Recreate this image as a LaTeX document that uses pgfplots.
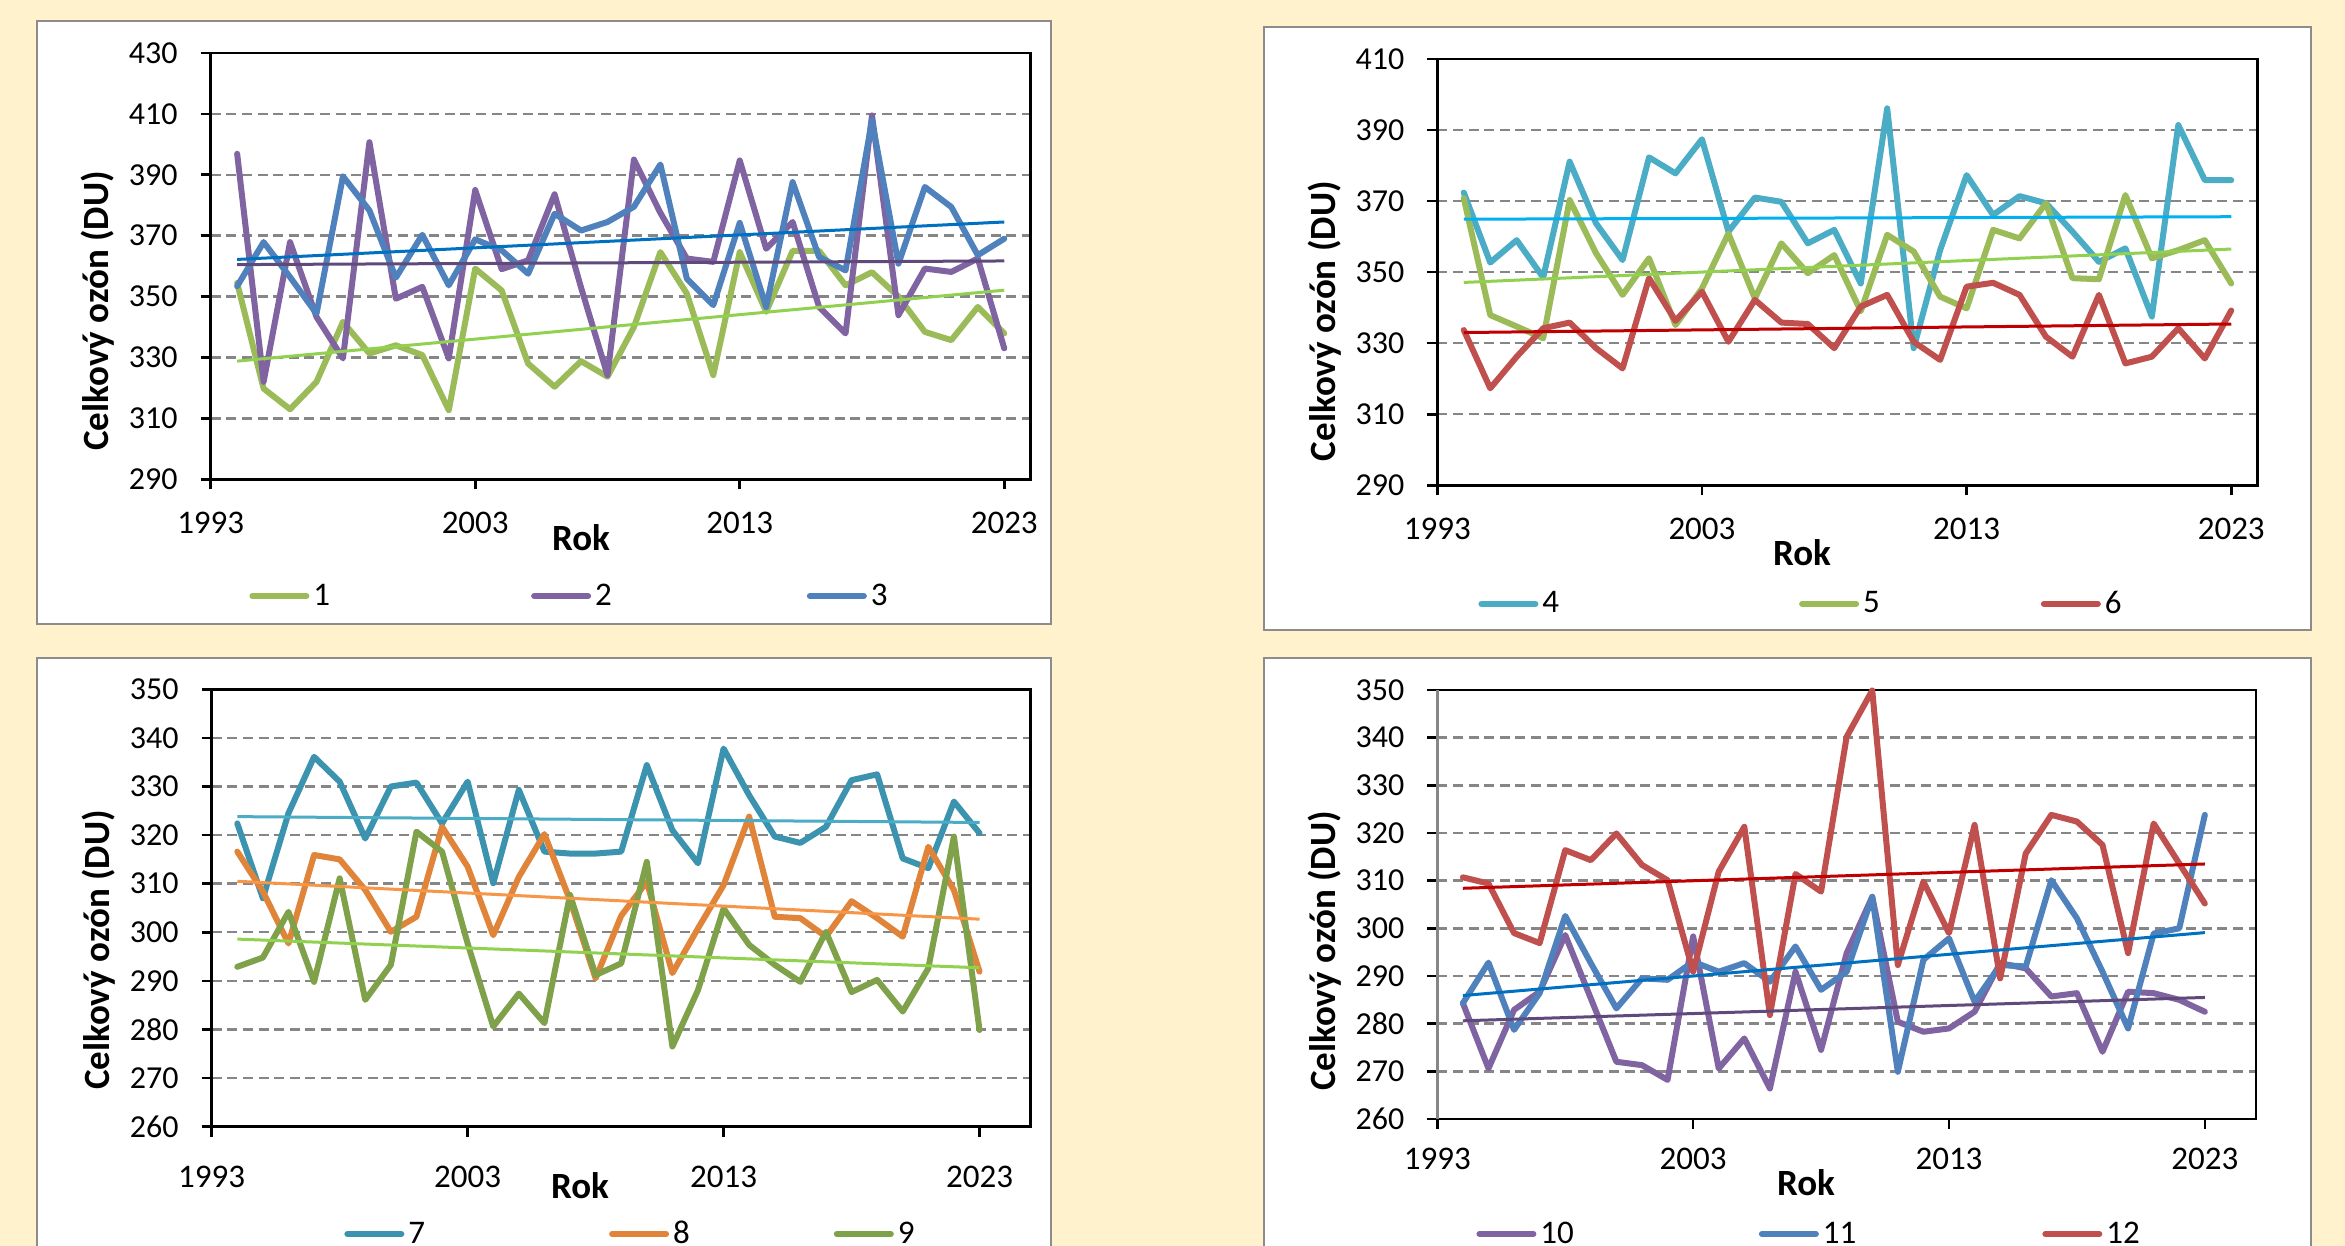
\documentclass[border=0pt]{standalone}
\usepackage{pgfplots}
\usepackage{pgfplotstable}
\pgfplotsset{compat=1.18}
\usepackage{fontspec}
\setmainfont{Carlito}

\definecolor{bgc}{HTML}{FFF2CC}
\definecolor{boxc}{HTML}{8C8C8C}
\definecolor{gridc}{HTML}{868686}
\definecolor{cA}{HTML}{9BBB59}
\definecolor{cB}{HTML}{8064A2}
\definecolor{cC}{HTML}{4F81BD}
\definecolor{cD}{HTML}{4BACC6}
\definecolor{cE}{HTML}{C0504D}
\definecolor{cF}{HTML}{3C93AF}
\definecolor{cG}{HTML}{E0843A}
\definecolor{cH}{HTML}{7EA14A}
\definecolor{tGreen}{HTML}{92D050}
\definecolor{tPurple}{HTML}{604A7B}
\definecolor{tBlue}{HTML}{0070C0}
\definecolor{tAqua}{HTML}{00B0F0}
\definecolor{tRed}{HTML}{C00000}
\definecolor{tTeal}{HTML}{4BACC6}
\definecolor{tOrange}{HTML}{F79646}

\pgfplotstableread{
year s1 s2 s3
1994 354.5 396.9 353.4
1995 319.8 322.0 367.9
1996 313.0 367.9 356.4
1997 322.0 343.3 344.4
1998 341.7 329.7 389.5
1999 331.3 400.7 378.3
2000 334.0 349.3 356.2
2001 330.8 353.2 370.3
2002 312.7 329.7 353.7
2003 359.2 385.0 368.8
2004 352.0 359.0 365.2
2005 328.0 361.9 357.5
2006 320.4 383.6 377.2
2007 328.8 353.0 371.7
2008 323.7 324.2 374.5
2009 340.0 395.0 379.5
2010 364.6 377.5 393.4
2011 351.0 362.5 355.9
2012 324.2 361.4 347.2
2013 364.6 394.7 374.2
2014 345.0 365.7 346.6
2015 365.0 374.5 387.6
2016 365.0 346.6 363.0
2017 353.7 337.9 358.6
2018 358.0 409.5 407.8
2019 350.0 343.9 360.8
2020 338.4 359.2 386.0
2021 335.7 358.1 379.4
2022 346.6 362.5 363.6
2023 337.9 333.0 369.0
}\tabA

\pgfplotstableread{
year s4 s5 s6
1994 372.4 370.8 333.7
1995 352.7 337.9 317.3
1996 359.0 334.7 326.2
1997 348.5 331.4 334.2
1998 381.1 370.3 335.8
1999 363.7 355.3 328.6
2000 353.4 343.6 322.9
2001 382.3 353.9 348.3
2002 377.8 335.1 336.3
2003 387.4 345.4 344.5
2004 361.4 360.9 330.4
2005 371.0 342.6 342.2
2006 369.8 358.1 335.8
2007 358.1 349.7 335.4
2008 361.9 354.8 328.6
2009 346.8 339.0 340.3
2010 396.1 360.5 343.6
2011 328.6 355.8 330.4
2012 356.2 343.1 325.3
2013 377.3 339.8 345.9
2014 366.1 361.9 347.0
2015 371.4 359.5 343.6
2016 369.4 369.4 331.8
2017 361.4 348.3 326.2
2018 352.9 348.0 343.6
2019 356.7 371.7 324.3
2020 337.5 353.9 326.2
2021 391.4 356.2 334.2
2022 375.9 359.0 325.7
2023 375.9 346.8 339.2
}\tabB

\pgfplotstableread{
year s7 s8 s9
1994 322.4 316.6 292.9
1995 307.0 308.4 294.8
1996 324.5 297.7 304.2
1997 336.1 315.9 289.8
1998 331.0 315.0 311.1
1999 319.3 308.7 286.1
2000 330.0 300.1 293.3
2001 330.8 303.2 320.7
2002 322.4 321.7 316.6
2003 331.0 313.5 297.7
2004 310.1 299.4 280.6
2005 329.3 311.4 287.4
2006 316.6 320.2 281.3
2007 316.2 306.6 307.7
2008 316.2 290.5 291.2
2009 316.6 303.4 293.6
2010 334.4 310.4 314.5
2011 321.0 291.6 276.5
2012 314.2 300.8 288.1
2013 337.8 309.7 304.9
2014 328.2 323.8 297.4
2015 319.7 303.2 293.3
2016 318.4 302.9 289.8
2017 321.7 299.1 300.1
2018 331.3 306.4 287.7
2019 332.5 302.9 290.2
2020 315.2 299.1 283.7
2021 313.2 317.6 292.6
2022 326.9 308.7 319.7
2023 320.4 291.9 279.9
}\tabC

\pgfplotstableread{
year s10 s11 s12
1994 284.3 284.3 310.7
1995 270.6 292.8 309.4
1996 282.9 278.7 299.0
1997 286.7 286.4 296.9
1998 298.6 302.6 316.4
1999 285.3 292.7 314.3
2000 272.0 283.2 319.9
2001 271.3 289.5 313.3
2002 268.2 289.2 310.1
2003 298.3 293.0 290.9
2004 270.6 290.9 311.9
2005 276.9 292.7 321.3
2006 266.4 288.8 281.8
2007 290.9 296.2 311.4
2008 274.5 287.1 307.7
2009 294.8 290.9 340.2
2010 306.6 306.6 349.9
2011 280.4 269.9 292.3
2012 278.3 293.4 309.8
2013 279.0 297.9 299.0
2014 282.5 284.6 321.7
2015 292.7 292.3 289.5
2016 291.6 292.0 315.7
2017 285.7 310.1 323.8
2018 286.4 302.1 322.4
2019 274.1 290.9 317.5
2020 286.7 279.0 294.8
2021 286.4 298.9 322.0
2022 285.0 300.0 313.6
2023 282.5 323.8 305.2
}\tabD

\pgfplotsset{
  ser/.style={line width=3pt, line join=round, line cap=round},
  trd/.style={line width=1.5pt, forget plot},
  panel/.style={
    scale only axis,
    anchor=south west,
    clip=false,
    axis line style={black, line width=1.3pt},
    every tick/.style={black, line width=1.3pt},
    major tick length=5pt,
    tick align=outside,
    xtick pos=bottom,
    ytick pos=left,
    xmin=1993,
    xtick={1993,2003,2013,2023},
    ymajorgrids,
    major grid style={gridc, line width=1.2pt, dash pattern=on 5pt off 2.8pt},
    tick label style={font=\fontsize{16}{19}\selectfont},
    x tick label style={font=\fontsize{16.5}{19}\selectfont},
    yticklabel style={xshift=-8pt},
    /pgf/number format/assume math mode=true,
    /pgf/number format/1000 sep={},
    label style={font=\bfseries\fontsize{18.5}{21}\selectfont},
    xlabel={Rok},
    ylabel={Celkový ozón (DU)},
    legend columns=3,
    legend cell align=left,
    legend style={draw=none, fill=none, inner sep=0pt, anchor=west,
       font=\fontsize{16.5}{19}\selectfont,
       nodes={inner sep=2pt}},
    legend image code/.code={\draw[##1, line width=3pt, line cap=round] (0pt,0pt) -- (27pt,0pt);},
  }
}

\begin{document}
\begin{tikzpicture}[x=1pt,y=1pt]
\useasboundingbox (0,0) rectangle (1172.5,623);
\fill[bgc] (0,0) rectangle (1172.5,623);
\draw[boxc, line width=1.2pt, fill=white] (18.5,311) rectangle (525.5,612.5);
\draw[boxc, line width=1.2pt, fill=white] (632,308) rectangle (1155.5,609.5);
\draw[boxc, line width=1.2pt, fill=white] (18.5,-10) rectangle (525.5,294);
\draw[boxc, line width=1.2pt, fill=white] (632,-10) rectangle (1155.5,294);

% Panel 1
\begin{axis}[panel, at={(105.35pt,383.35pt)}, width=410pt, height=213.15pt,
  xmax=2024, ymin=290, ymax=430, ytick={290,310,...,430},
  xticklabel style={yshift=-8pt},
  ylabel style={at={(axis description cs:-0.1374,0.395)}, anchor=center},
  xlabel style={at={(axis description cs:0.4516,-0.1377)}, anchor=center},
  legend style={at={(0.0467,-0.274)},
    /tikz/column 2/.style={column sep=98.5pt},
    /tikz/column 4/.style={column sep=95.5pt}}]
\addplot[ser, cA] table[x=year, y=s1] {\tabA};
\addlegendentry{1}
\addplot[ser, cB] table[x=year, y=s2] {\tabA};
\addlegendentry{2}
\addplot[ser, cC] table[x=year, y=s3] {\tabA};
\addlegendentry{3}
\addplot[trd, tGreen] coordinates {(1994,328.8) (2023,352.1)};
\addplot[trd, tPurple] coordinates {(1994,360.5) (2023,361.7)};
\addplot[trd, tBlue] coordinates {(1994,362.2) (2023,374.5)};
\end{axis}

% Panel 2
\begin{axis}[panel, at={(718.65pt,380.35pt)}, width=410.2pt, height=213.15pt,
  xmax=2024, ymin=290, ymax=410, ytick={290,310,...,410},
  xticklabel style={yshift=-8pt},
  ylabel style={at={(axis description cs:-0.1369,0.385)}, anchor=center},
  xlabel style={at={(axis description cs:0.4445,-0.159)}, anchor=center},
  legend style={at={(0.0496,-0.278)},
    /tikz/column 2/.style={column sep=118pt},
    /tikz/column 4/.style={column sep=78.5pt}}]
\addplot[ser, cD] table[x=year, y=s4] {\tabB};
\addlegendentry{4}
\addplot[ser, cA] table[x=year, y=s5] {\tabB};
\addlegendentry{5}
\addplot[ser, cE] table[x=year, y=s6] {\tabB};
\addlegendentry{6}
\addplot[trd, tAqua] coordinates {(1994,364.9) (2023,365.6)};
\addplot[trd, tGreen] coordinates {(1994,347.1) (2023,356.5)};
\addplot[trd, tRed] coordinates {(1994,333.0) (2023,335.4)};
\end{axis}

% Panel 3
\begin{axis}[panel, at={(105.85pt,59.65pt)}, width=409.5pt, height=218.7pt,
  xmax=2025, ymin=260, ymax=350, ytick={260,270,...,350},
  xticklabel style={yshift=-11pt},
  ylabel style={at={(axis description cs:-0.138,0.404)}, anchor=center},
  xlabel style={at={(axis description cs:0.4497,-0.1356)}, anchor=center},
  legend style={at={(0.1615,-0.2453)},
    /tikz/column 2/.style={column sep=90pt},
    /tikz/column 4/.style={column sep=70pt}}]
\addplot[ser, cF] table[x=year, y=s7] {\tabC};
\addlegendentry{7}
\addplot[ser, cG] table[x=year, y=s8] {\tabC};
\addlegendentry{8}
\addplot[ser, cH] table[x=year, y=s9] {\tabC};
\addlegendentry{9}
\addplot[trd, tTeal] coordinates {(1994,323.8) (2023,322.6)};
\addplot[trd, tOrange] coordinates {(1994,310.5) (2023,302.7)};
\addplot[trd, tGreen] coordinates {(1994,298.6) (2023,292.7)};
\end{axis}

% Panel 4
\begin{axis}[panel, at={(718.65pt,63.5pt)}, width=409.35pt, height=214.5pt,
  xmax=2025, ymin=260, ymax=350, ytick={260,270,...,350},
  xticklabel style={yshift=-6pt},
  ylabel style={at={(axis description cs:-0.1372,0.3916)}, anchor=center},
  xlabel style={at={(axis description cs:0.4503,-0.149)}, anchor=center},
  legend style={at={(0.0473,-0.268)},
    /tikz/column 2/.style={column sep=90.5pt},
    /tikz/column 4/.style={column sep=91pt}},
  extra description/.code={\draw[gridc, line width=1.3pt] (rel axis cs:0,0) -- (rel axis cs:0,1);}]
\addplot[ser, cB] table[x=year, y=s10] {\tabD};
\addlegendentry{10}
\addplot[ser, cC] table[x=year, y=s11] {\tabD};
\addlegendentry{11}
\addplot[ser, cE] table[x=year, y=s12] {\tabD};
\addlegendentry{12}
\addplot[trd, tRed] coordinates {(1994,308.4) (2023,313.5)};
\addplot[trd, tBlue] coordinates {(1994,285.9) (2023,299.1)};
\addplot[trd, tPurple] coordinates {(1994,280.6) (2023,285.5)};
\end{axis}
\end{tikzpicture}
\end{document}
